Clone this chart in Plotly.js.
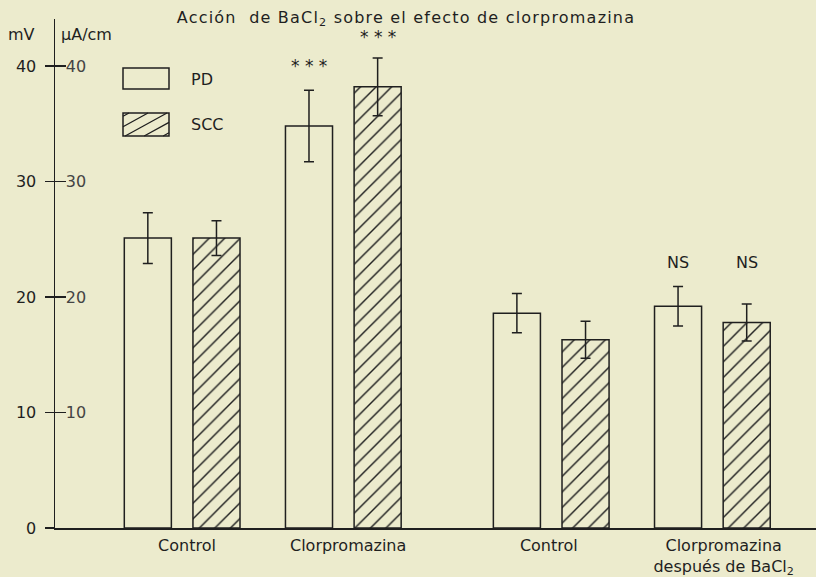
<!DOCTYPE html>
<html>
<head>
<meta charset="utf-8">
<script src="https://cdn.plot.ly/plotly-3.0.1.min.js"></script>
<style>
html,body{margin:0;padding:0;background:#ecebcd;}
#chart .gtitle{letter-spacing:1.2px;}
</style>
</head>
<body>
<div id="chart" style="width:816px;height:577px;"></div>
<script>
// ---- data ----
const groupLabels = ["Control", "Clorpromazina", "Control", "Clorpromazina<br>después de BaCl<sub>2</sub>"];
const pdValues  = [25.1, 34.8, 18.6, 19.2];
const pdErrors  = [2.2, 3.1, 1.7, 1.7];
const sccValues = [25.1, 38.2, 16.3, 17.8];
const sccErrors = [1.5, 2.5, 1.6, 1.6];
const pdMarks  = ["", "* * *", "", "NS"];
const sccMarks = ["", "* * *", "", "NS"];
const yTickVals = [0, 10, 20, 30, 40];
const yTickText = ["0", "10", "20", "30", "40"];
const yTickTextRight = ["10", "20", "30", "40"];

// ---- layout constants ----
const groupPos = [0, 1, 2.29, 3.29];
const labelShift = [0.03, 0.03, -0.015, 0.07];
const barW = 0.292, barOff = 0.213;
const BG = "#ecebcd", INK = "#1f1f1f";
const FONT = "DejaVu Sans";
const W = 816, H = 577, L = 55, R = 0, T = 19, B = 49;
const px2x = p => (p - L) / (W - L - R);
const px2y = p => (H - B - p) / (H - T - B);

const pdTrace = {
  type: "bar", name: "PD", x: groupPos, y: pdValues,
  width: barW, offset: -barOff - barW / 2,
  marker: { color: BG, line: { color: INK, width: 1.5 } },
  error_y: { type: "data", array: pdErrors, visible: true, color: INK, thickness: 1.5, width: 5 },
  showlegend: false, hoverinfo: "y"
};
const sccTrace = {
  type: "bar", name: "SCC", x: groupPos, y: sccValues,
  width: barW, offset: barOff - barW / 2,
  marker: { color: BG, line: { color: INK, width: 1.5 },
    pattern: { shape: "/", size: 11, solidity: 0.13, fgcolor: INK, bgcolor: BG, fillmode: "replace" } },
  error_y: { type: "data", array: sccErrors, visible: true, color: INK, thickness: 1.5, width: 5 },
  showlegend: false, hoverinfo: "y"
};
// empty trace so the second (µA/cm) scale is drawn
const axisHolder = { type: "scatter", mode: "markers", x: [], y: [], yaxis: "y2", showlegend: false, hoverinfo: "skip" };

const annotations = [];
groupPos.forEach((g, i) => {
  if (pdMarks[i] === "* * *") {
    annotations.push({ x: g - barOff, y: pdValues[i] + pdErrors[i], yshift: 24, text: pdMarks[i], showarrow: false, yanchor: "middle", font: { size: 17 } });
    annotations.push({ x: g + barOff, y: sccValues[i] + sccErrors[i], yshift: 21, text: sccMarks[i], showarrow: false, yanchor: "middle", font: { size: 17 } });
  } else if (pdMarks[i] === "NS") {
    const top = Math.max(pdValues[i] + pdErrors[i], sccValues[i] + sccErrors[i]);
    annotations.push({ x: g - barOff, y: top, yshift: 24, text: pdMarks[i], showarrow: false, yanchor: "middle" });
    annotations.push({ x: g + barOff, y: top, yshift: 24, text: sccMarks[i], showarrow: false, yanchor: "middle" });
  }
});
// axis unit labels
annotations.push({ xref: "paper", yref: "paper", x: px2x(21), y: px2y(35), text: "mV", showarrow: false, xanchor: "center", yanchor: "middle" });
annotations.push({ xref: "paper", yref: "paper", x: px2x(59), y: px2y(35), text: "µA/cm", showarrow: false, xanchor: "left", yanchor: "middle" });
// legend labels
annotations.push({ xref: "paper", yref: "paper", x: px2x(189), y: px2y(79), text: "PD", showarrow: false, xanchor: "left", yanchor: "middle" });
annotations.push({ xref: "paper", yref: "paper", x: px2x(189), y: px2y(124), text: "SCC", showarrow: false, xanchor: "left", yanchor: "middle" });

// legend swatches
const shapes = [];
function box(x0, y0, x1, y1) {
  shapes.push({ type: "rect", xref: "paper", yref: "paper", x0: px2x(x0), x1: px2x(x1), y0: px2y(y1), y1: px2y(y0),
    line: { color: INK, width: 1.5 }, fillcolor: BG });
}
box(123, 68, 169, 89);
box(123, 113, 169, 136);
(function () {
  const x0 = 123, x1 = 169, y0 = 113, y1 = 136, slope = 0.55, step = 19;
  let d = "";
  for (let c = x0 - (y1 - y0) / slope + 6; c < x1; c += step) {
    let ya = y1, xa = c, yb = y0, xb = c + (y1 - y0) / slope;
    if (xa < x0) { ya = y1 - (x0 - c) * slope; xa = x0; }
    if (xb > x1) { yb = y1 - (x1 - c) * slope; xb = x1; }
    if (xa >= xb) continue;
    d += `M${px2x(xa)},${px2y(ya)}L${px2x(xb)},${px2y(yb)}`;
  }
  shapes.push({ type: "path", xref: "paper", yref: "paper", path: d, line: { color: INK, width: 1.3 } });
})();

const layout = {
  width: W, height: H,
  margin: { l: L, r: R, t: T, b: B },
  paper_bgcolor: BG, plot_bgcolor: BG,
  font: { family: FONT, size: 16, color: INK },
  title: { text: "Acción  de BaCl<sub>2</sub> sobre el efecto de clorpromazina", xref: "container", x: 406 / W, xanchor: "center",
    yref: "container", y: 1 - 17 / H, yanchor: "middle", font: { family: FONT, size: 16, color: INK } },
  bargap: 0,
  xaxis: {
    range: [-0.789, 3.933], tickvals: groupPos.map((g, i) => g + labelShift[i]), ticktext: groupLabels,
    showline: true, linecolor: INK, linewidth: 1.5, ticks: "", showgrid: false, zeroline: false,
    ticklabelstandoff: 2, fixedrange: true
  },
  yaxis: {
    range: [0, 44.07], tickvals: yTickVals, ticktext: yTickText,
    showline: true, linecolor: INK, linewidth: 1.5, ticks: "outside", ticklen: 9, tickwidth: 1.5, tickcolor: INK,
    showgrid: false, zeroline: false, ticklabelstandoff: 5, fixedrange: true
  },
  yaxis2: {
    overlaying: "y", anchor: "x", side: "left", range: [0, 44.07],
    tickvals: yTickVals.slice(1), ticktext: yTickTextRight,
    ticks: "inside", ticklen: 11, tickwidth: 1.5, tickcolor: INK, ticklabelposition: "inside",
    showline: false, showgrid: false, zeroline: false, fixedrange: true
  },
  annotations: annotations,
  shapes: shapes,
  showlegend: false
};

Plotly.newPlot("chart", [pdTrace, sccTrace, axisHolder], layout, { displayModeBar: false, staticPlot: true });
</script>
</body>
</html>
